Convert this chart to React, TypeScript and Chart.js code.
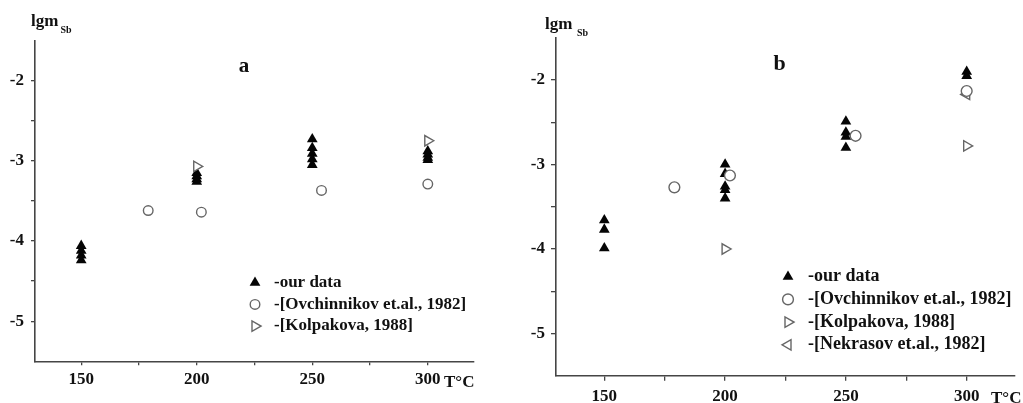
import React, { useEffect, useRef } from 'react';
import { Chart, registerables } from 'chart.js';
import { drawPoint } from 'chart.js/helpers';

Chart.register(...registerables);

// ---------- data ----------
const X_TICKS = [150, 175, 200, 225, 250, 275, 300];
const Y_TICKS = [-5, -4.5, -4, -3.5, -3, -2.5, -2];

const LABEL_OUR = '-our data';
const LABEL_OVCH = '-[Ovchinnikov et.al., 1982]';
const LABEL_KOLP = '-[Kolpakova, 1988]';
const LABEL_NEKR = '-[Nekrasov et.al., 1982]';

// panel a
const A_OUR_X = [150, 150, 150, 150, 200, 200, 200, 200, 250, 250, 250, 250, 250, 300, 300, 300, 300];
const A_OUR_Y = [-4.06, -4.12, -4.18, -4.24, -3.15, -3.19, -3.23, -3.26, -2.73, -2.84, -2.91, -2.98, -3.05, -2.88, -2.92, -2.96, -2.99];
const A_OVCH_X = [179, 202, 254, 300];
const A_OVCH_Y = [-3.62, -3.64, -3.37, -3.29];
const A_KOLP_X = [200, 300];
const A_KOLP_Y = [-3.07, -2.75];

// panel b
const B_OUR_X = [150, 150, 150, 200, 200, 200, 200, 200, 250, 250, 250, 250, 300, 300];
const B_OUR_Y = [-3.66, -3.77, -3.99, -3.0, -3.11, -3.26, -3.3, -3.4, -2.49, -2.62, -2.67, -2.8, -1.9, -1.95];
const B_OVCH_X = [179, 202, 254, 300];
const B_OVCH_Y = [-3.27, -3.13, -2.66, -2.13];
const B_KOLP_X = [200, 300];
const B_KOLP_Y = [-4.0, -2.78];
const B_NEKR_X = [300];
const B_NEKR_Y = [-2.17];

// ---------- styles ----------
const FONT = '"Liberation Serif", "Times New Roman", serif';
const AXIS_COLOR = '#454545';
const TEXT_COLOR = '#111111';
const OPEN_COLOR = '#666666';

type Kind = 'our' | 'ovch' | 'kolp' | 'nekr';
interface Series { label: string; xs: number[]; ys: number[]; kind: Kind }

const STYLE: Record<Kind, any> = {
  our: { pointStyle: 'triangle', rotation: 0, radius: 6.2, bg: '#050505', border: '#050505', bw: 0, order: 2 },
  ovch: { pointStyle: 'circle', rotation: 0, radius: 5, bg: '#ffffff', border: OPEN_COLOR, bw: 1.4, order: 1 },
  kolp: { pointStyle: 'triangle', rotation: 90, radius: 6, bg: '#ffffff', border: OPEN_COLOR, bw: 1.4, order: 1 },
  nekr: { pointStyle: 'triangle', rotation: 270, radius: 6, bg: '#ffffff', border: OPEN_COLOR, bw: 1.4, order: 1 },
};

interface PanelCfg {
  name: string;
  width: number;
  left: number;
  padTop: number;
  padRight: number;
  yWidth: number;
  xHeight: number;
  tickLen: number;
  xPad: number;
  yPad: number;
  tickFont: number;
  circleR: number;
  lgm: [number, number];
  sub: [number, number];
  panelPos: [number, number];
  panelFont: number;
  unit: [number, number];
  legend: { x: number; y: number; gap: number; textX: number; font: number };
  series: Series[];
}

const PANELS: PanelCfg[] = [
  {
    name: 'a', width: 500, left: 0, padTop: 40.5, padRight: 26, yWidth: 35, xHeight: 41.7,
    tickLen: 4, xPad: 4.5, yPad: 7, tickFont: 17, circleR: 4.8,
    lgm: [31, 26], sub: [60.5, 33], panelPos: [244, 71.5], panelFont: 21, unit: [444, 386.5],
    legend: { x: 255, y: 282.7, gap: 21.7, textX: 274, font: 17 },
    series: [
      { label: LABEL_OUR, xs: A_OUR_X, ys: A_OUR_Y, kind: 'our' },
      { label: LABEL_OVCH, xs: A_OVCH_X, ys: A_OVCH_Y, kind: 'ovch' },
      { label: LABEL_KOLP, xs: A_KOLP_X, ys: A_KOLP_Y, kind: 'kolp' },
    ],
  },
  {
    name: 'b', width: 511, left: 512, padTop: 37.8, padRight: 8, yWidth: 44, xHeight: 27.3,
    tickLen: 5, xPad: 6, yPad: 6, tickFont: 17, circleR: 5.4,
    lgm: [33, 28.5], sub: [65, 36], panelPos: [267.7, 70], panelFont: 22, unit: [479, 403],
    legend: { x: 276, y: 276.7, gap: 22.7, textX: 296, font: 18 },
    series: [
      { label: LABEL_OUR, xs: B_OUR_X, ys: B_OUR_Y, kind: 'our' },
      { label: LABEL_OVCH, xs: B_OVCH_X, ys: B_OVCH_Y, kind: 'ovch' },
      { label: LABEL_KOLP, xs: B_KOLP_X, ys: B_KOLP_Y, kind: 'kolp' },
      { label: LABEL_NEKR, xs: B_NEKR_X, ys: B_NEKR_Y, kind: 'nekr' },
    ],
  },
];

function makeAnnotPlugin(cfg: PanelCfg) {
  return {
    id: 'annot_' + cfg.name,
    afterDraw(chart: any) {
      const ctx: CanvasRenderingContext2D = chart.ctx;
      ctx.save();
      ctx.fillStyle = TEXT_COLOR;
      ctx.textAlign = 'left';
      ctx.textBaseline = 'alphabetic';
      ctx.font = `bold ${cfg.tickFont}px ${FONT}`;
      ctx.fillText('lgm', cfg.lgm[0], cfg.lgm[1]);
      ctx.font = `bold 10px ${FONT}`;
      ctx.fillText('Sb', cfg.sub[0], cfg.sub[1]);
      ctx.font = `bold ${cfg.panelFont}px ${FONT}`;
      ctx.textAlign = 'center';
      ctx.fillText(cfg.name, cfg.panelPos[0], cfg.panelPos[1]);
      ctx.textAlign = 'left';
      ctx.font = `bold ${cfg.tickFont}px ${FONT}`;
      ctx.fillText('T\u00B0C', cfg.unit[0], cfg.unit[1]);

      const L = cfg.legend;
      cfg.series.forEach((s, i) => {
        const st = STYLE[s.kind];
        const y = L.y + i * L.gap;
        ctx.fillStyle = st.bg;
        ctx.strokeStyle = st.border;
        ctx.lineWidth = st.bw;
        drawPoint(ctx, {
          pointStyle: st.pointStyle,
          rotation: st.rotation,
          radius: s.kind === 'ovch' ? cfg.circleR : st.radius,
          borderWidth: st.bw,
        } as any, L.x, y);
        ctx.fillStyle = TEXT_COLOR;
        ctx.font = `bold ${L.font}px ${FONT}`;
        ctx.textBaseline = 'middle';
        ctx.fillText(s.label, L.textX, y);
      });
      ctx.restore();
    },
  };
}

function Panel({ cfg }: { cfg: PanelCfg }) {
  const ref = useRef<HTMLCanvasElement | null>(null);
  useEffect(() => {
    if (!ref.current) return;
    const datasets = cfg.series.map((s) => {
      const st = STYLE[s.kind];
      const r = s.kind === 'ovch' ? cfg.circleR : st.radius;
      return {
        label: s.label,
        data: s.xs.map((x, i) => ({ x, y: s.ys[i] })),
        pointStyle: st.pointStyle,
        rotation: st.rotation,
        pointRadius: r,
        pointHoverRadius: r,
        backgroundColor: st.bg,
        borderColor: st.border,
        borderWidth: st.bw,
        showLine: false,
        order: st.order,
      };
    });
    const tickFont = { family: FONT, size: cfg.tickFont, weight: 'bold' as const };
    const chart = new Chart(ref.current, {
      type: 'scatter',
      data: { datasets },
      plugins: [makeAnnotPlugin(cfg)],
      options: {
        animation: false,
        responsive: false,
        maintainAspectRatio: false,
        events: [],
        layout: { padding: { top: cfg.padTop, right: cfg.padRight, left: 0, bottom: 0 } },
        plugins: { legend: { display: false }, tooltip: { enabled: false } },
        scales: {
          x: {
            type: 'linear',
            min: 130,
            max: 320,
            afterBuildTicks: (scale: any) => { scale.ticks = X_TICKS.map((v) => ({ value: v })); },
            afterFit: (scale: any) => { scale.height = cfg.xHeight; },
            grid: { display: true, drawOnChartArea: false, drawTicks: true, tickLength: cfg.tickLen, color: AXIS_COLOR, lineWidth: 1.3 },
            border: { display: true, color: AXIS_COLOR, width: 1.6 },
            ticks: {
              autoSkip: false,
              maxRotation: 0,
              padding: cfg.xPad,
              color: TEXT_COLOR,
              font: tickFont,
              callback: (v: any) => (Number(v) % 50 === 0 ? String(v) : ''),
            },
          },
          y: {
            type: 'linear',
            min: -5.5,
            max: -1.5,
            afterBuildTicks: (scale: any) => { scale.ticks = Y_TICKS.map((v) => ({ value: v })); },
            afterFit: (scale: any) => { scale.width = cfg.yWidth; },
            grid: { display: true, drawOnChartArea: false, drawTicks: true, tickLength: cfg.tickLen, color: AXIS_COLOR, lineWidth: 1.3 },
            border: { display: true, color: AXIS_COLOR, width: 1.6 },
            ticks: {
              autoSkip: false,
              padding: cfg.yPad,
              color: TEXT_COLOR,
              font: tickFont,
              callback: (v: any) => (Number.isInteger(Number(v)) ? String(v) : ''),
            },
          },
        },
      } as any,
    });
    return () => chart.destroy();
  }, [cfg]);
  return (
    <canvas
      ref={ref}
      width={cfg.width}
      height={403}
      style={{ position: 'absolute', left: cfg.left, top: 0, width: cfg.width, height: 403 }}
    />
  );
}

export default function App() {
  return (
    <div style={{ position: 'absolute', left: 0, top: 0, width: 1023, height: 403, overflow: 'hidden', background: '#fff' }}>
      {PANELS.map((p) => (
        <Panel key={p.name} cfg={p} />
      ))}
    </div>
  );
}
